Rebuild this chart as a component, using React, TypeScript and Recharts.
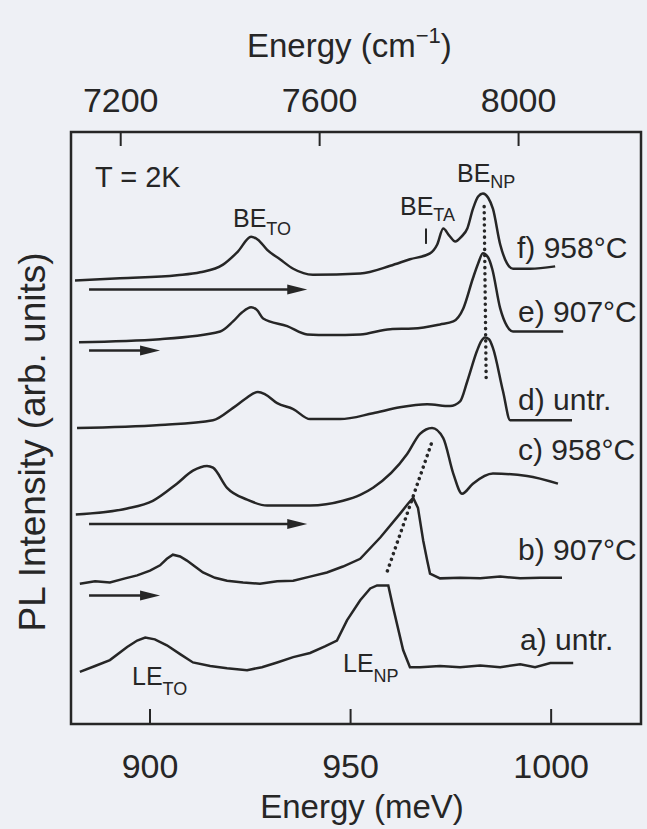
import { LineChart, Line, XAxis, YAxis, ReferenceLine, ReferenceArea } from "recharts";

const FONT = '"Liberation Sans", Arial, sans-serif';
const INK = "#262626";
const PAPER = "#eef0f5";

// axes: photon energy in meV (bottom), wavenumber in cm^-1 (top)
const MEV_TO_CM = 8.0655;
const eMin = 880.3;
const eMax = 1022.4;
const bottomTicks = [900, 950, 1000];
const topTicks = [7200, 7600, 8000];

// spectra, stacked with vertical offsets (arb. units)
const fEnergy = [881.3, 892.5, 906.7, 912.5, 918.2, 921.9, 925.2, 926.9, 929.2, 932.4, 935.7, 940.6, 952.4, 959.9, 964.8, 969.8, 971.6, 973.1, 974.6, 976.1, 977.6, 979.1, 980.5, 981.8, 983.0, 984.3, 985.5, 987.3, 989.0, 990.5, 994.8, 1001.0];
const fIntensity = [74.9, 75.3, 75.8, 76.3, 77.6, 79.8, 82.3, 81.8, 80.1, 78.5, 76.9, 75.9, 76.1, 77.4, 78.5, 79.5, 81.0, 83.7, 82.5, 81.5, 82.3, 83.7, 87.0, 89.1, 89.6, 88.9, 87.0, 81.0, 77.8, 76.9, 76.9, 77.3];

const eEnergy = [882.3, 902.5, 917.5, 920.7, 922.9, 925.2, 926.7, 928.2, 934.2, 939.2, 944.9, 952.4, 959.9, 965.6, 972.3, 975.6, 978.1, 980.5, 981.8, 983.0, 984.3, 985.3, 987.3, 989.0, 990.5, 1003.0];
const eIntensity = [64.5, 65.0, 66.3, 68.0, 69.5, 70.4, 69.9, 68.5, 67.2, 65.8, 65.7, 65.8, 66.7, 66.8, 67.5, 68.0, 70.2, 75.3, 77.8, 79.5, 78.8, 76.9, 70.2, 67.2, 66.3, 66.3];

const dEnergy = [881.8, 902.5, 915.7, 920.7, 923.7, 926.9, 928.7, 931.7, 935.7, 939.9, 947.4, 955.6, 962.3, 969.1, 974.8, 977.3, 979.1, 981.5, 982.5, 983.5, 984.5, 985.5, 988.0, 989.8, 994.8, 1005.2];
const dIntensity = [50.0, 50.5, 51.3, 53.4, 54.9, 56.1, 55.7, 54.2, 53.2, 51.5, 51.5, 52.5, 53.5, 54.0, 53.7, 54.5, 57.9, 63.0, 64.6, 65.3, 65.0, 63.5, 56.2, 51.3, 51.3, 51.3];

const cEnergy = [881.5, 894.3, 900.7, 906.7, 910.7, 914.2, 915.7, 919.2, 924.2, 929.2, 939.9, 948.1, 952.4, 955.6, 964.1, 967.3, 970.3, 973.1, 975.6, 977.8, 980.5, 985.5, 994.0, 1001.7];
const cIntensity = [35.4, 36.4, 37.7, 40.6, 42.8, 43.6, 43.3, 39.9, 37.9, 36.9, 36.9, 37.7, 38.7, 39.9, 45.6, 49.0, 50.0, 48.3, 42.3, 38.9, 40.6, 42.3, 41.9, 40.6];

const bEnergy = [882.5, 886.3, 890.0, 893.8, 896.8, 900.0, 902.5, 904.2, 905.7, 907.5, 909.2, 911.2, 913.2, 916.2, 919.2, 923.2, 927.4, 931.7, 935.7, 939.9, 944.1, 948.1, 952.4, 957.4, 962.3, 964.3, 965.6, 966.8, 968.1, 969.1, 969.8, 972.3, 977.3, 982.3, 987.3, 992.3, 997.3, 1002.7];
const bIntensity = [23.7, 24.1, 23.9, 24.6, 25.1, 25.9, 26.8, 27.9, 28.6, 28.3, 27.6, 26.6, 25.6, 24.7, 24.2, 23.9, 23.7, 24.1, 24.2, 24.9, 25.6, 26.6, 27.9, 31.5, 35.5, 37.2, 38.2, 36.5, 31.0, 27.6, 25.4, 24.6, 24.7, 24.6, 24.9, 24.6, 24.7, 24.7];

const aEnergy = [882.5, 886.3, 890.0, 894.3, 896.8, 898.8, 901.2, 904.2, 907.5, 910.7, 915.0, 919.2, 924.2, 927.9, 931.7, 935.7, 939.9, 943.6, 946.6, 949.1, 952.4, 954.9, 956.6, 959.4, 960.6, 963.1, 964.8, 967.3, 972.3, 977.3, 982.3, 987.3, 992.3, 996.0, 999.8, 1005.5];
const aIntensity = [8.8, 9.8, 10.8, 13.0, 14.1, 14.6, 14.3, 13.3, 11.8, 10.4, 9.8, 9.4, 9.1, 9.6, 10.4, 11.3, 12.0, 13.1, 14.1, 17.5, 20.9, 22.9, 23.4, 23.4, 19.7, 12.5, 9.6, 9.6, 9.8, 9.6, 9.9, 9.6, 10.1, 9.6, 10.3, 10.3];

// arrows under f, e, c, b
const arrowStart = 884.8;
const arrowEnds = [939.2, 902.5, 939.2, 902.5];
const arrowLevels = [73.4, 63.1, 33.8, 21.7];

const pts = (e: number[], v: number[]) => e.map((x, i) => ({ e: x, v: v[i] }));

const spectra = [
  { id: "f", data: pts(fEnergy, fIntensity), smooth: true },
  { id: "e", data: pts(eEnergy, eIntensity), smooth: true },
  { id: "d", data: pts(dEnergy, dIntensity), smooth: true },
  { id: "c", data: pts(cEnergy, cIntensity), smooth: true },
  { id: "b", data: pts(bEnergy, bIntensity), smooth: false },
  { id: "a", data: pts(aEnergy, aIntensity), smooth: false },
];

// plot box edges in the page (px)
const PLOT_TOP = 132;
const PLOT_BOTTOM = 724;

const bottomTick = (p: any) => (
  <g key={`b${p.payload.value}`}>
    <line x1={p.x} x2={p.x} y1={PLOT_BOTTOM - 1} y2={PLOT_BOTTOM - 15} stroke={INK} strokeWidth={2} />
    <text x={p.x} y={PLOT_BOTTOM + 54} textAnchor="middle" fontSize={34} fill={INK} fontFamily={FONT}>
      {p.payload.value}
    </text>
  </g>
);

// wavenumber ticks placed on the meV scale
const topTick = (label: number) => (p: any) => {
  const top = Math.min(p.y1, p.y2);
  return (
    <g>
      <line x1={p.x1} x2={p.x1} y1={top + 1} y2={top + 14} stroke={INK} strokeWidth={2} />
      <text x={p.x1} y={top - 20} textAnchor="middle" fontSize={34} fill={INK} fontFamily={FONT}>
        {label}
      </text>
    </g>
  );
};

const Arrow = (p: any) => (
  <g>
    <line x1={p.x1} y1={p.y1} x2={p.x2 - 12} y2={p.y2} stroke={INK} strokeWidth={2.5} />
    <polygon points={`${p.x2},${p.y2} ${p.x2 - 20},${p.y2 - 5} ${p.x2 - 20},${p.y2 + 5}`} fill={INK} />
  </g>
);

const txt = { fill: INK, fontFamily: FONT } as const;

export default function App() {
  return (
    <div style={{ position: "absolute", left: 0, top: 0, width: 647, height: 829, background: PAPER }}>
      <LineChart width={647} height={829} margin={{ top: PLOT_TOP, right: 6, bottom: 829 - PLOT_BOTTOM - 30, left: 71 }}>
        <XAxis
          xAxisId="bottom"
          type="number"
          dataKey="e"
          domain={[eMin, eMax]}
          ticks={bottomTicks}
          height={30}
          axisLine={false}
          tickLine={false}
          tick={bottomTick}
          interval={0}
          allowDataOverflow
        />
        <YAxis yAxisId="left" type="number" domain={[0, 100]} hide allowDataOverflow />
        <ReferenceArea
          xAxisId="bottom"
          yAxisId="left"
          x1={eMin}
          x2={eMax}
          y1={0}
          y2={100}
          fill="none"
          fillOpacity={0}
          stroke={INK}
          strokeWidth={2.5}
          ifOverflow="visible"
        />
        {topTicks.map((t) => (
          <ReferenceLine key={t} xAxisId="bottom" yAxisId="left" x={t / MEV_TO_CM} shape={topTick(t)} />
        ))}
        {spectra.map((s) => (
          <Line
            key={s.id}
            xAxisId="bottom"
            yAxisId="left"
            data={s.data}
            dataKey="v"
            type={s.smooth ? "monotone" : "linear"}
            stroke={INK}
            strokeWidth={2.5}
            dot={false}
            isAnimationActive={false}
          />
        ))}
        {arrowLevels.map((lvl, i) => (
          <ReferenceLine
            key={i}
            xAxisId="bottom"
            yAxisId="left"
            segment={[{ x: arrowStart, y: lvl }, { x: arrowEnds[i], y: lvl }]}
            shape={Arrow}
          />
        ))}
        <ReferenceLine
          xAxisId="bottom"
          yAxisId="left"
          segment={[{ x: 983.3, y: 87.4 }, { x: 983.8, y: 58.2 }]}
          stroke={INK}
          strokeWidth={3.5}
          strokeDasharray="0.1 6"
          strokeLinecap="round"
        />
        <ReferenceLine
          xAxisId="bottom"
          yAxisId="left"
          segment={[{ x: 970.1, y: 47.3 }, { x: 958.9, y: 25.3 }]}
          stroke={INK}
          strokeWidth={3.5}
          strokeDasharray="0.1 6"
          strokeLinecap="round"
        />
        <ReferenceLine
          xAxisId="bottom"
          yAxisId="left"
          segment={[{ x: 968.8, y: 83.7 }, { x: 968.8, y: 81.1 }]}
          stroke={INK}
          strokeWidth={2}
        />
      </LineChart>
      <svg width={647} height={829} style={{ position: "absolute", left: 0, top: 0, pointerEvents: "none" }}>
        <text x={247} y={57} fontSize={33} {...txt}>
          Energy (cm<tspan dy={-14} fontSize={22}>−1</tspan>
          <tspan dy={14} fontSize={33}>)</tspan>
        </text>
        <text x={362} y={818} fontSize={33} textAnchor="middle" {...txt}>Energy (meV)</text>
        <text x={45} y={442} fontSize={37} textAnchor="middle" transform="rotate(-90 45 442)" {...txt}>
          PL Intensity (arb. units)
        </text>
        <text x={95} y={187} fontSize={29} {...txt}>T = 2K</text>
        <text x={233} y={227} fontSize={25} {...txt}>
          BE<tspan dy={8} fontSize={18}>TO</tspan>
        </text>
        <text x={400} y={215} fontSize={25} {...txt}>
          BE<tspan dy={6} fontSize={18}>TA</tspan>
        </text>
        <text x={457} y={182} fontSize={25} {...txt}>
          BE<tspan dy={6} fontSize={18}>NP</tspan>
        </text>
        <text x={132} y={685} fontSize={25} {...txt}>
          LE<tspan dy={10} fontSize={18}>TO</tspan>
        </text>
        <text x={343} y={672} fontSize={25} {...txt}>
          LE<tspan dy={10} fontSize={18}>NP</tspan>
        </text>
        <text x={517} y={258} fontSize={30} {...txt}>f) 958°C</text>
        <text x={518} y={322} fontSize={30} {...txt}>e) 907°C</text>
        <text x={518} y={410} fontSize={30} {...txt}>d) untr.</text>
        <text x={518} y={460} fontSize={30} {...txt}>c) 958°C</text>
        <text x={518} y={560} fontSize={30} {...txt}>b) 907°C</text>
        <text x={520} y={650} fontSize={30} {...txt}>a) untr.</text>
      </svg>
    </div>
  );
}
